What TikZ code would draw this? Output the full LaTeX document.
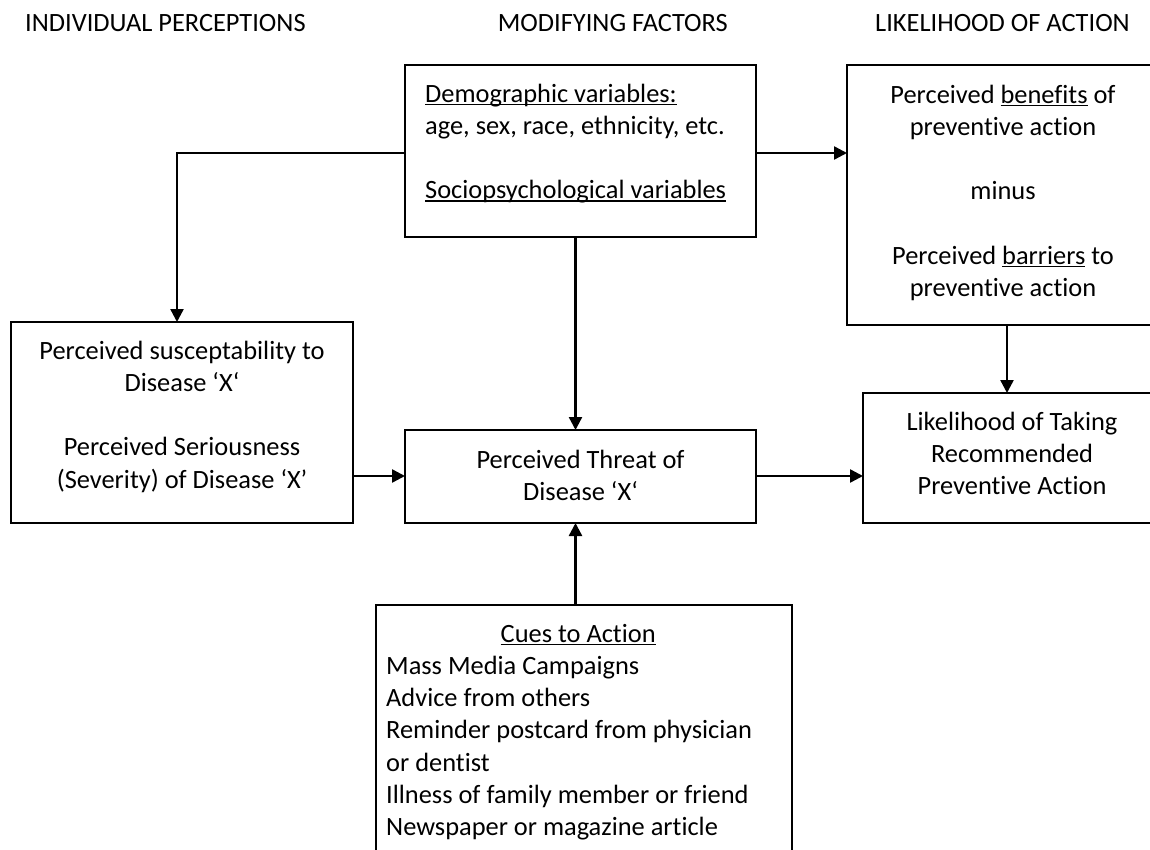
\documentclass[tikz,border=0pt]{standalone}
\usepackage{fontspec}
\setmainfont{Carlito}[Ligatures=NoCommon]
\usetikzlibrary{arrows.meta}
\newcommand\fsz{\fontsize{26.4}{32.2}\selectfont}
\newcommand\uln[1]{{\setbox0\hbox{#1}\rlap{\rule[-3pt]{\wd0}{1.4pt}}\box0}}
\begin{document}
\begin{tikzpicture}[x=1pt,y=-1pt,
  box/.style={draw=black, line width=1.6pt, anchor=north west, inner sep=0pt, outer sep=0pt},
  txt/.style={font=\fsz, align=center, inner sep=0pt, anchor=north, yshift=14.5pt},
  head/.style={font=\fsz, inner sep=0pt},
  arr/.style={line width=2.4pt, -{Triangle[length=13pt,width=13pt]}}]
\fill[white] (0,0) rectangle (1150,850);
\useasboundingbox (0,0) rectangle (1150,850);

% headers
\node[head, anchor=base west] (h1) at (25,31.5) {INDIVIDUAL PERCEPTIONS};
\node[head, anchor=base east] (h2) at (728,31.5) {MODIFYING FACTORS};
\node[head, anchor=base west] (h3) at (875,31.5) {LIKELIHOOD OF ACTION};

% boxes
\node[box, minimum width=351pt, minimum height=172pt] (demo) at (405,65) {};
\node[box, minimum width=315pt, minimum height=260pt] (bene) at (847,65) {};
\node[box, minimum width=342pt, minimum height=201pt] (susc) at (11,322) {};
\node[box, minimum width=351pt, minimum height=93pt] (threat) at (405,430) {};
\node[box, minimum width=299pt, minimum height=130pt] (likeli) at (863,393) {};
\node[box, minimum width=416pt, minimum height=270pt] (cues) at (376,605) {};

% texts
\node[txt, anchor=north west, align=flush left] (demoT) at (425,94) {\strut\uln{Demographic variables:}\\ age, sex, race, ethnicity, etc.\\[32.2pt] \uln{Sociopsychological variables}};
\node[txt] (beneT) at (1003,95) {\strut Perceived \uln{benefits} of\\ preventive action\\[32.2pt] minus\\[32.2pt] Perceived \uln{barriers} to\\ preventive action};
\node[txt] (suscT) at (182,351) {\strut Perceived susceptability to\\ Disease ‘X‘\\[32.2pt] Perceived Seriousness\\ (Severity) of Disease ‘X’};
\node[txt] (threatT) at (580.5,460) {\strut Perceived Threat of\\ Disease ‘X‘};
\node[txt] (likeliT) at (1012,422) {\strut Likelihood of Taking\\ Recommended\\ Preventive Action};
\node[txt, anchor=north west, align=flush left, text width=384pt] (cuesT) at (386,634) {\strut\makebox[\hsize]{\uln{Cues to Action}}\\ Mass Media Campaigns\\ Advice from others\\ Reminder postcard from physician\\ or dentist\\ Illness of family member or friend\\ Newspaper or magazine article};

% connectors
\coordinate (k1) at (177,153);
\coordinate (k2) at (575.5,0);
\coordinate (k3) at (0,476);
\coordinate (k4) at (1007,0);
\draw[arr] (demo.west |- k1) -| (k1 |- susc.north);
\draw[arr] (demo.east |- k1) -- (bene.west |- k1);
\draw[arr] (demo.south -| k2) -- (threat.north -| k2);
\draw[arr] (cues.north -| k2) -- (threat.south -| k2);
\draw[arr] (susc.east |- k3) -- (threat.west |- k3);
\draw[arr] (threat.east |- k3) -- (likeli.west |- k3);
\draw[arr] (bene.south -| k4) -- (likeli.north -| k4);
\end{tikzpicture}
\end{document}
